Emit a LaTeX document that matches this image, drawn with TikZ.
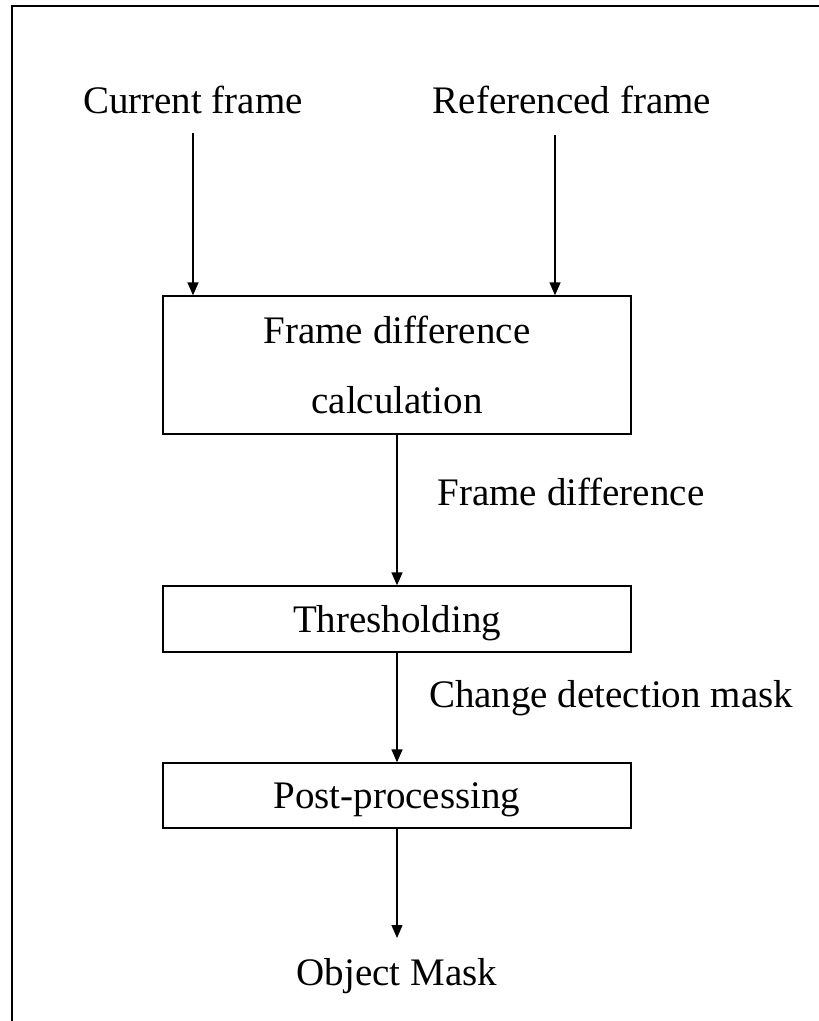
\documentclass[tikz,border=0pt]{standalone}
\usepackage{fontspec}
\setmainfont{Liberation Serif}
\usetikzlibrary{arrows.meta}
\begin{document}
\begin{tikzpicture}[x=1pt,y=-1pt,
  lbl/.style={font=\fontsize{39}{46}\selectfont, inner sep=0pt, anchor=base},
  procbox/.style={draw, line width=1.3pt, minimum width=468pt, inner sep=0pt,
    font=\fontsize{39}{70}\selectfont, align=center},
  arr/.style={line width=1.3pt, -{Triangle[width=11pt,length=13pt]}}]
\useasboundingbox (0,0) rectangle (819,1021);
% outer frame (top and left edges visible)
\draw[line width=2pt] (12,1025) -- (12,6) -- (825,6);
% inputs
\node[lbl] (cf) at (193,113) {Current frame};
\node[lbl] (rf) at (572,113) {Referenced frame};
% boxes
\node[procbox, minimum height=138pt] (fdc) at (397,365) {Frame difference\\calculation};
\node[procbox, minimum height=66pt, text height=26.6pt, text depth=0pt] (thr) at (397,619) {Thresholding};
\node[procbox, minimum height=65pt, text height=26.6pt, text depth=0pt] (pp) at (397,795.5) {Post-processing};
% output
\node[lbl] (om) at (397,985) {Object Mask};
% edge labels
\node[lbl] (fdl) at (571,505) {Frame difference};
\node[lbl] (cdl) at (611,707) {Change detection mask};
% connectors
\coordinate (cfa) at ([yshift=-20pt]cf.base);
\coordinate (rfa) at ([xshift=-17pt,yshift=-22pt]rf.base);
\draw[arr] (cfa) -- (cfa |- fdc.north);
\draw[arr] (rfa) -- (rfa |- fdc.north);
\draw[arr] (fdc.south) -- (thr.north);
\draw[arr] (thr.south) -- (pp.north);
\coordinate (oma) at ([yshift=47pt]om.base);
\draw[arr] (pp.south) -- (oma);
\end{tikzpicture}
\end{document}
